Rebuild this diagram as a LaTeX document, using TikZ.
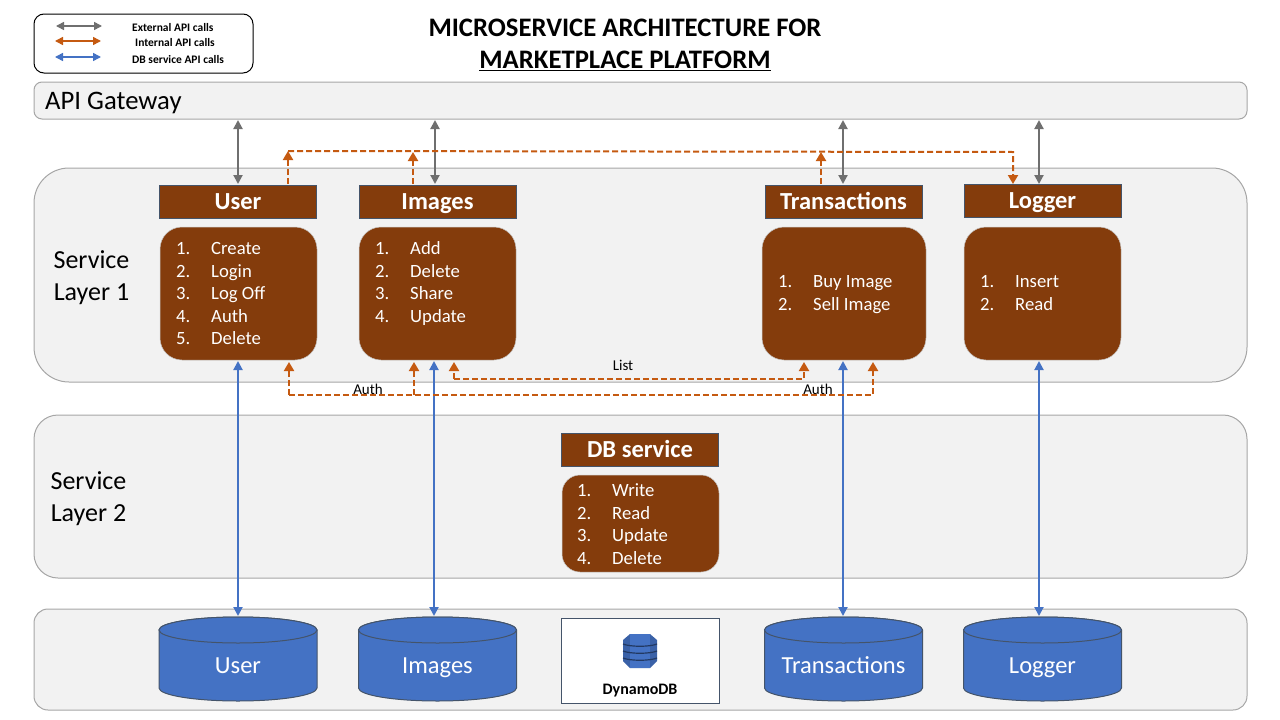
\documentclass[tikz,border=0pt]{standalone}
\usepackage{fontspec}
\setmainfont{Carlito}
\usepackage{tikz}
\usetikzlibrary{arrows.meta}
\usetikzlibrary{positioning}
\definecolor{panelfill}{HTML}{F2F2F2}
\definecolor{panelline}{HTML}{A6A6A6}
\definecolor{brown}{HTML}{843C0C}
\definecolor{boxline}{HTML}{44546A}
\definecolor{extgrey}{HTML}{6F6F6F}
\definecolor{intorange}{HTML}{C55A11}
\definecolor{dbblue}{HTML}{4472C4}
\tikzset{
  panel/.style={draw=panelline, fill=panelfill, line width=1pt},
  headbox/.style={draw=boxline, fill=brown, line width=1pt, minimum width=157pt, minimum height=33pt, inner sep=0pt, text=white, text height=17pt, text depth=2pt, font=\fontsize{24.5}{24.5}\selectfont\bfseries},
  bodybox/.style={fill=brown, draw=panelline!60, line width=.5pt, rounded corners=22pt, inner sep=0pt},
  item/.style={anchor=west, inner sep=0pt, text=white, text height=13pt, text depth=0pt, font=\fontsize{18.7}{18.7}\selectfont},
  drumtext/.style={inner sep=0pt, text=white, text height=16pt, text depth=0pt, font=\fontsize{24.5}{24.5}\selectfont},
  drum/.style={draw=boxline, fill=dbblue, line width=1pt},
  extcall/.style={{Triangle[width=9pt,length=9pt]}-{Triangle[width=9pt,length=9pt]}, extgrey, line width=2pt},
  dbcall/.style={{Triangle[width=9pt,length=9pt]}-{Triangle[width=9pt,length=9pt]}, dbblue, line width=2pt},
  intcall/.style={intorange, line width=2pt, dash pattern=on 6pt off 3pt},
  inttip/.style={-{Triangle[width=10pt,length=9pt]}},
  tag/.style={inner sep=0pt, font=\fontsize{15}{15}\selectfont},
  layertext/.style={inner sep=0pt, align=center, font=\fontsize{26}{32}\selectfont},
  titletext/.style={inner sep=0pt, font=\fontsize{26.7}{26.7}\selectfont\bfseries},
  legendtext/.style={anchor=west, inner sep=0pt, font=\fontsize{11.5}{11.5}\selectfont\bfseries},
}
% prints a numbered list: #1 name, #2 x of the numbers, #3 list of number/y/text
\newcommand{\itemlist}[3]{
  \foreach \num/\ypos/\txt in {#3} {
    \node[item] (#1num\num) at (#2,\ypos) {\num.};
    \node[item] (#1txt\num) at (#2+35,\ypos) {\txt};
  }
}
% db drum: #1 name, #2 x centre, #3 text
\newcommand{\dbdrum}[3]{
  \draw[drum] (#2-79,630) arc[start angle=180, end angle=360, x radius=79, y radius=13]
    -- (#2+79,688) arc[start angle=0, end angle=180, x radius=79, y radius=13] -- cycle;
  \draw[drum] (#2,630) ellipse[x radius=79, y radius=13];
  \node[drumtext] (#1) at (#2,665) {#3};
}
\begin{document}
\begin{tikzpicture}[x=1pt,y=-1pt]
\useasboundingbox (0,0) rectangle (1280,720);
% background panels
\draw[panel, rounded corners=8pt] (34,82) rectangle (1247,119);
\draw[panel, rounded corners=35pt] (34,168) rectangle (1247,382);
\draw[panel, rounded corners=24pt] (34,415) rectangle (1247,578);
\draw[panel, rounded corners=14pt] (34,609) rectangle (1247,710);
\node[anchor=west, inner sep=0pt, font=\fontsize{26.7}{26.7}\selectfont] (gateway) at (45,103) {API Gateway};
\node[layertext] (layerone) at (91.5,278) {Service\\Layer 1};
\node[layertext] (layertwo) at (88.5,499) {Service\\Layer 2};
% title
\node[titletext] (titleone) at (625,28) {MICROSERVICE ARCHITECTURE FOR};
\node[titletext] (titletwo) at (625,61) {\underline{MARKETPLACE PLATFORM}};
% legend
\draw[black, fill=white, line width=1pt, rounded corners=10pt] (34,14) rectangle (253,73);
\coordinate (extl) at (56,26); \coordinate (extr) at (102,26);
\coordinate (intl) at (55,41); \coordinate (intr) at (101,41);
\coordinate (dbl) at (55,57); \coordinate (dbr) at (101,57);
\draw[{Triangle[width=8pt,length=8pt]}-{Triangle[width=8pt,length=8pt]}, extgrey, line width=1.5pt] (extl)--(extr);
\draw[{Triangle[width=8pt,length=8pt]}-{Triangle[width=8pt,length=8pt]}, intorange, line width=1.5pt] (intl)--(intr);
\draw[{Triangle[width=8pt,length=8pt]}-{Triangle[width=8pt,length=8pt]}, dbblue, line width=1.5pt] (dbl)--(dbr);
\node[legendtext] (extlabel) at (132,28) {External API calls};
\node[legendtext] (intlabel) at (135,43) {Internal API calls};
\node[legendtext] (dblabel) at (132,60) {DB service API calls};
% services
\node[headbox] (userhead) at (238,201.5) {User};
\node[headbox] (imageshead) at (437.5,201.5) {Images};
\node[headbox] (transhead) at (843.5,201.5) {Transactions};
\node[headbox] (loggerhead) at (1042.5,200.5) {Logger};
\node[bodybox, minimum width=157pt, minimum height=133pt] (userbody) at (238.5,293.5) {};
\node[bodybox, minimum width=157pt, minimum height=133pt] (imagesbody) at (437.5,293.5) {};
\node[bodybox, minimum width=164pt, minimum height=133pt] (transbody) at (844,293.5) {};
\node[bodybox, minimum width=157pt, minimum height=133pt] (loggerbody) at (1042.5,293.5) {};
\itemlist{user}{176}{1/248/Create,2/271/Login,3/293/Log Off,4/316/Auth,5/338/Delete}
\itemlist{images}{375}{1/248/Add,2/271/Delete,3/293/Share,4/316/Update}
\itemlist{trans}{778}{1/281/Buy Image,2/304/Sell Image}
\itemlist{logger}{980}{1/281/Insert,2/304/Read}
% db service
\node[headbox] (dbhead) at (640,449.5) {DB service};
\node[bodybox, rounded corners=18pt, minimum width=157pt, minimum height=97pt] (dbbody) at (640.5,523.5) {};
\itemlist{db}{577}{1/490/Write,2/513/Read,3/535/Update,4/558/Delete}
% storage
\dbdrum{usercyl}{238}{User}
\dbdrum{imagescyl}{437.5}{Images}
\dbdrum{transcyl}{843.5}{Transactions}
\dbdrum{loggercyl}{1042.5}{Logger}
\node[draw=boxline, fill=white, line width=1pt, minimum width=158pt, minimum height=85pt, inner sep=0pt] (dynamo) at (640,660.5) {};
\node[inner sep=0pt, font=\fontsize{16}{16}\selectfont\bfseries] (dynamolabel) at (640,691) {DynamoDB};
% dynamodb icon
\fill[dbblue!85!black] (623,640) -- (630,634) -- (650,634) -- (657,640) -- (657,661) -- (650,668) -- (630,668) -- (623,661) -- cycle;
\fill[dbblue] (630,634) -- (650,634) -- (650,668) -- (630,668) -- cycle;
\foreach \ybar in {644,651,658} {
  \draw[dbblue!50!black, line width=1.2pt] (623,\ybar) .. controls (630,\ybar+3) and (650,\ybar+3) .. (657,\ybar);
}
% external and db calls
\foreach \name/\xg/\xb in {user/238/238,images/435/434,trans/843/843,logger/1039/1039} {
  \coordinate (gw\name) at (\xg,120);
  \coordinate (top\name) at (\xg,184);
  \draw[extcall] (gw\name)--(top\name);
  \coordinate (low\name) at (\xb,361);
  \coordinate (store\name) at (\xb,616);
  \draw[dbcall] (low\name)--(store\name);
}
% internal calls at the top
\coordinate (auserup) at (288,184);
\coordinate (auserbend) at (288,151);
\coordinate (aimagesup) at (413,184);
\coordinate (aimagesbend) at (413,152);
\coordinate (atransup) at (821,184);
\coordinate (atransbend) at (821,152);
\coordinate (aloggerbend) at (1013,152);
\coordinate (aloggerup) at (1013,184);
\draw[intcall, inttip] (auserup)--(auserbend);
\draw[intcall, inttip] (aimagesup)--(aimagesbend);
\draw[intcall, inttip] (atransup)--(atransbend);
\draw[intcall, inttip] (auserbend)--(aloggerbend)--(aloggerup);
% internal calls at the bottom
\coordinate (buser) at (289,362);
\coordinate (buserb) at (289,395);
\coordinate (bimages) at (414,362);
\coordinate (bimagesb) at (414,395);
\coordinate (btrans) at (873,362);
\coordinate (btransb) at (873,395);
\coordinate (limages) at (454,362);
\coordinate (limagesb) at (454,379);
\coordinate (ltrans) at (804,362);
\coordinate (ltransb) at (804,379);
\draw[intcall, inttip] (buserb)--(buser);
\draw[intcall, inttip] (bimagesb)--(bimages);
\draw[intcall, inttip] (buserb)--(btransb)--(btrans);
\draw[intcall, inttip] (limagesb)--(limages);
\draw[intcall, inttip] (limagesb)--(ltransb)--(ltrans);
\node[tag] (authone) at (368,389) {Auth};
\node[tag] (authtwo) at (818,389) {Auth};
\node[tag] (listtag) at (623,365) {List};
\end{tikzpicture}
\end{document}
